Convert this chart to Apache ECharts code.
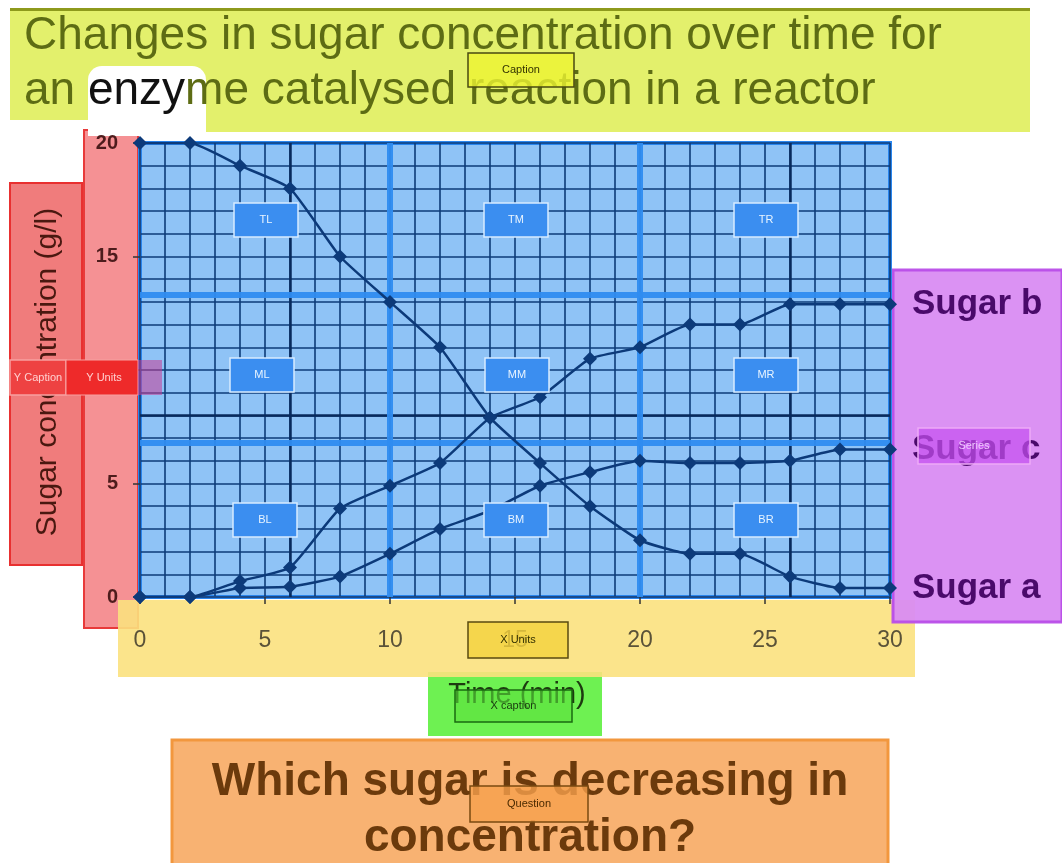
<!DOCTYPE html>
<html>
<head>
<meta charset="utf-8">
<script src="https://cdn.jsdelivr.net/npm/echarts@6/dist/echarts.min.js"></script>
<style>
  html, body { margin: 0; padding: 0; background: #fff; }
  #chart { width: 1062px; height: 863px; }
</style>
</head>
<body>
<div id="chart"></div>
<script>
// time in minutes
const times = [0, 2, 4, 6, 8, 10, 12, 14, 16, 18, 20, 22, 24, 26, 28, 30];
// sugar concentrations (g/l)
const sugarA = [20, 20, 19, 18, 15, 13, 11, 7.9, 5.9, 4, 2.5, 1.9, 1.9, 0.9, 0.4, 0.4];
const sugarB = [0, 0, 0.7, 1.3, 3.9, 4.9, 5.9, 7.9, 8.8, 10.5, 11, 12, 12, 12.9, 12.9, 12.9];
const sugarC = [0, 0, 0.4, 0.45, 0.9, 1.9, 3, 3.8, 4.9, 5.5, 6, 5.9, 5.9, 6, 6.5, 6.5];
const seriesNames = ["Sugar a", "Sugar b", "Sugar c"];

const titleLines = ["Changes in sugar concentration over time for", "an enzyme catalysed reaction in a reactor"];
const questionLines = ["Which sugar is decreasing in", "concentration?"];
const regionTags = [
  ["TL", 266, 220], ["TM", 516, 220], ["TR", 766, 220],
  ["ML", 262, 375], ["MM", 517, 375], ["MR", 766, 375],
  ["BL", 265, 520], ["BM", 516, 520], ["BR", 766, 520],
];

const FONT = "'Liberation Sans', Arial, sans-serif";
const lineColor = "#0c3a7a";

function pair(xs, ys) {
  return xs.map((x, i) => [x, ys[i]]);
}

function box(x, y, w, h, fill, stroke, lw, z, opacity) {
  return {
    type: "rect",
    z: z,
    shape: { x: x, y: y, width: w, height: h },
    style: { fill: fill, stroke: stroke || null, lineWidth: lw || 0, opacity: opacity == null ? 1 : opacity },
  };
}

// annotation tag, drawn see-through like the reference
function tag(text, x, y, w, h, fill, stroke, color) {
  return {
    type: "group",
    z: 100,
    children: [
      box(x, y, w, h, fill, stroke, 1.5, 100),
      {
        type: "text",
        z: 101,
        style: {
          x: x + w / 2, y: y + h / 2, text: text, fill: color,
          font: "11px " + FONT, align: "center", verticalAlign: "middle",
        },
      },
    ],
  };
}

const graphics = [
  // caption box
  box(10, 8, 1020, 112, "#e3f06c", null, 0, -10),
  box(205, 110, 825, 22, "#e3f06c", null, 0, -10),
  box(10, 8, 1020, 3, "#8e9a1c", null, 0, -9),
  { type: "rect", z: -9, shape: { x: 88, y: 66, width: 118, height: 70, r: [14, 14, 0, 0] }, style: { fill: "#ffffff" } },
  {
    type: "text", z: -5,
    style: { x: 24, y: 36, text: titleLines[0], fill: "#5d6c14", font: "46px " + FONT, verticalAlign: "middle" },
  },
  {
    type: "text", z: -5,
    style: {
      x: 24, y: 91,
      text: "{o|an }{k|enzy}{o|" + titleLines[1].slice(7) + "}",
      verticalAlign: "middle",
      rich: {
        o: { fill: "#5d6c14", font: "46px " + FONT },
        k: { fill: "#111111", font: "46px " + FONT },
      },
    },
  },
  // y caption / units
  box(10, 183, 72, 382, "#f07c7c", "#e83030", 2, -10),
  box(84, 130, 54, 498, "#f59194", "#e83a3a", 2, -10),
  {
    type: "text", z: -5, rotation: Math.PI / 2,
    x: 48, y: 372,
    style: {
      x: 0, y: 0, text: "Sugar concentration (g/l)", fill: "#4a1810",
      font: "30px " + FONT, align: "center", verticalAlign: "middle",
    },
  },
  // x caption
  box(428, 672, 174, 64, "#6ef152", null, 0, -10),
  // x units
  box(118, 600, 797, 77, "#fbe17e", null, 0, -8, 0.9),
  {
    type: "text", z: -4,
    style: { x: 517, y: 695, text: "Time (min)", fill: "#1d3a10", font: "29px " + FONT, align: "center", verticalAlign: "middle" },
  },
  // question
  box(172, 740, 716, 126, "#f8b272", "#f2973e", 3, -10),
  {
    type: "text", z: -5,
    style: { x: 530, y: 782, text: questionLines[0], fill: "#6b3a0c", font: "bold 46px " + FONT, align: "center", verticalAlign: "middle" },
  },
  {
    type: "text", z: -5,
    style: { x: 530, y: 838, text: questionLines[1], fill: "#6b3a0c", font: "bold 46px " + FONT, align: "center", verticalAlign: "middle" },
  },
  // series box
  box(893, 270, 169, 352, "#d98cf2", "#b94ee8", 3, -8, 0.95),
  // overlay tags
  tag("Caption", 468, 53, 106, 34, "rgba(236,244,50,0.8)", "#4a4a10", "#333300"),
  tag("Y Caption", 10, 360, 56, 35, "#ee4242", "#f7a0a0", "#ffd0d0"),
  {
    type: "group", z: 100,
    children: [
      box(66, 360, 72, 35, "#ee2a2a", "#f7a0a0", 1, 100),
      box(138, 360, 24, 35, "rgba(200,60,150,0.55)", null, 0, 100),
      { type: "text", z: 101, style: { x: 104, y: 378, text: "Y Units", fill: "#ffd0d0", font: "11px " + FONT, align: "center", verticalAlign: "middle" } },
    ],
  },
  tag("X Units", 468, 622, 100, 36, "rgba(244,210,60,0.8)", "#5a4a10", "#333000"),
  tag("X caption", 455, 690, 117, 32, "rgba(90,225,60,0.6)", "#1a6a10", "#1a3a10"),
  tag("Question", 470, 786, 118, 36, "rgba(246,160,76,0.8)", "#7a4a10", "#4a2a00"),
  tag("Series", 918, 428, 112, 36, "rgba(196,80,240,0.7)", "#eeaaf8", "#f0c8ff"),
].concat(regionTags.map((t) => tag(t[0], t[1] - 32, t[2] - 17, 64, 34, "#3b8ef0", "#d8ecff", "#e8f4ff")));

function sugarSeries(name, ys) {
  return {
    name: name,
    type: "line",
    z: 5,
    data: pair(times, ys),
    smooth: 0.15,
    symbol: "diamond",
    symbolSize: 14,
    lineStyle: { color: lineColor, width: 2.5 },
    itemStyle: { color: lineColor },
    endLabel: {
      show: true,
      formatter: "{a}",
      distance: 22,
      color: "#4a0a6a",
      fontFamily: FONT,
      fontWeight: "bold",
      fontSize: 35,
    },
  };
}

const chart = echarts.init(document.getElementById("chart"));
chart.setOption({
  animation: false,
  backgroundColor: "#ffffff",
  grid: {
    left: 140, top: 143, width: 750, height: 454,
    show: true,
    backgroundColor: "#8fc3f6",
    borderColor: "#2a86ee",
    borderWidth: 4,
  },
  xAxis: {
    type: "value",
    min: 0, max: 30, interval: 5,
    axisLine: { show: true, onZero: false, lineStyle: { color: "#1a4a8a", width: 2 } },
    axisTick: { show: true, length: 7, lineStyle: { color: "#333", width: 1.5 } },
    minorTick: { show: false, splitNumber: 5 },
    splitLine: { show: true, lineStyle: { color: "#0d3b78", width: 1.6 } },
    minorSplitLine: { show: true, lineStyle: { color: "#0d3b78", width: 1.6 } },
    axisLabel: {
      margin: 32, color: "#5a5238", fontSize: 23, fontFamily: FONT,
    },
  },
  yAxis: {
    type: "value",
    min: 0, max: 20, interval: 5,
    axisLine: { show: true, lineStyle: { color: "#1a4a8a", width: 2 } },
    axisTick: { show: true, length: 7, lineStyle: { color: "#333", width: 1.5 } },
    minorTick: { show: false, splitNumber: 5 },
    splitLine: { show: true, lineStyle: { color: "#0d3b78", width: 1.6 } },
    minorSplitLine: { show: true, lineStyle: { color: "#0d3b78", width: 1.6 } },
    axisLabel: {
      margin: 22, color: "#4d1c1c", fontSize: 20, fontWeight: "bold", fontFamily: FONT,
    },
  },
  graphic: graphics,
  series: [
    {
      // darker guide lines and annotation partitions
      type: "line",
      z: 3,
      data: [],
      markLine: {
        silent: true,
        symbol: "none",
        label: { show: false },
        data: [
          { xAxis: 6, lineStyle: { color: "#082a5c", width: 2.5, type: "solid" } },
          { xAxis: 26, lineStyle: { color: "#082a5c", width: 2.5, type: "solid" } },
          { yAxis: 8, lineStyle: { color: "#082a5c", width: 2.5, type: "solid" } },
          { xAxis: 10, lineStyle: { color: "#2f8cf0", width: 6, type: "solid", opacity: 0.95 } },
          { xAxis: 20, lineStyle: { color: "#2f8cf0", width: 6, type: "solid", opacity: 0.95 } },
          { yAxis: 13.3, lineStyle: { color: "#2f8cf0", width: 6, type: "solid", opacity: 0.95 } },
          { yAxis: 6.8, lineStyle: { color: "#2f8cf0", width: 6, type: "solid", opacity: 0.95 } },
        ],
      },
    },
    sugarSeries(seriesNames[0], sugarA),
    sugarSeries(seriesNames[1], sugarB),
    sugarSeries(seriesNames[2], sugarC),
  ],
});
</script>
</body>
</html>
